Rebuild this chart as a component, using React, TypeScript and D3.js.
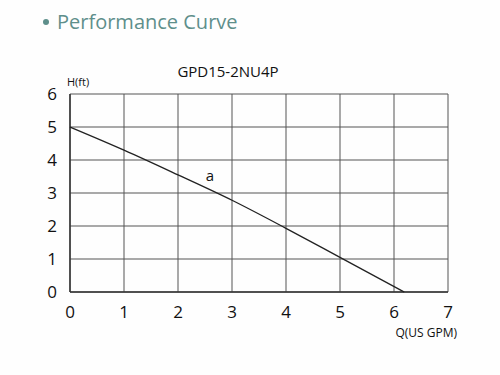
import React from "react";
import * as d3 from "d3";

const xTicks = [0, 1, 2, 3, 4, 5, 6, 7];
const yTicks = [0, 1, 2, 3, 4, 5, 6];
const flowQ = [0, 1, 2, 3, 4, 5, 6.19];
const headH = [5, 4.3, 3.55, 2.78, 1.93, 1.05, 0];
const titleText = "GPD15-2NU4P";
const headerText = "Performance Curve";

export default function App() {
  const W = 500, H = 375;
  const x = d3.scaleLinear().domain([0, 7]).range([70, 448]);
  const y = d3.scaleLinear().domain([0, 6]).range([292, 94]);
  const pts: [number, number][] = flowQ.map((q, i) => [q, headH[i]]);
  const line = d3.line<[number, number]>().x(d => x(d[0])).y(d => y(d[1])).curve(d3.curveMonotoneX);
  const font = "'Open Sans', 'Noto Sans', sans-serif";
  return (
    <svg width={W} height={H} style={{ position: "absolute", left: 0, top: 0, background: "#fff" }} fontFamily={font}>
      <rect width={W} height={H} fill="#fefefe" />
      <circle cx={46} cy={22} r={3} fill="#5e8f8b" />
      <text x={57} y={29} fontSize={20} fill="#5e8f8b">{headerText}</text>
      <text x={228} y={77} fontSize={15} textAnchor="middle" fill="#111">{titleText}</text>
      <text x={67} y={86} fontSize={11} fill="#111">H(ft)</text>
      {xTicks.map(t => (
        <line key={"gx" + t} x1={x(t)} x2={x(t)} y1={y(0)} y2={y(6)} stroke="#555" strokeWidth={1} />
      ))}
      {yTicks.map(t => (
        <line key={"gy" + t} x1={x(0)} x2={x(7)} y1={y(t)} y2={y(t)} stroke="#555" strokeWidth={1} />
      ))}
      <line x1={x(0)} x2={x(0)} y1={y(0)} y2={y(6)} stroke="#333" strokeWidth={1.5} />
      <line x1={x(0)} x2={x(7)} y1={y(0)} y2={y(0)} stroke="#333" strokeWidth={1.5} />
      {yTicks.map(t => (
        <text key={"ty" + t} x={52} y={y(t) + 6} fontSize={17} textAnchor="middle" fill="#111">{t}</text>
      ))}
      {xTicks.map(t => (
        <text key={"tx" + t} x={x(t)} y={318} fontSize={17} textAnchor="middle" fill="#111">{t}</text>
      ))}
      <text x={457} y={337} fontSize={12} textAnchor="end" fill="#111">Q(US GPM)</text>
      <path d={line(pts) || ""} fill="none" stroke="#222" strokeWidth={1.3} />
      <text x={210} y={181} fontSize={15} textAnchor="middle" fill="#111">a</text>
    </svg>
  );
}
